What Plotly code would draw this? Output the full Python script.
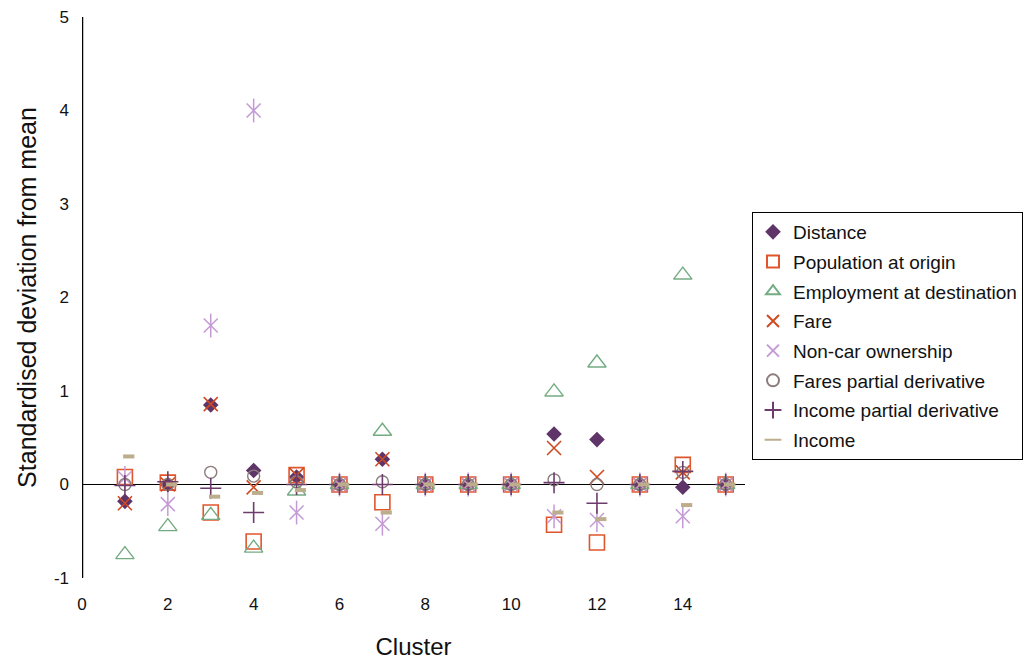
import plotly.graph_objects as go

# Cluster numbers on the horizontal axis
clusters = list(range(1, 16))

# Standardised deviation from mean for each variable, per cluster
distance = [-0.18, 0.00, 0.85, 0.15, 0.08, 0, 0.27, 0, 0, 0, 0.54, 0.48, 0, -0.03, 0]
population = [0.08, 0.02, -0.30, -0.61, 0.10, 0, -0.19, 0, 0, 0, -0.43, -0.62, 0, 0.21, 0]
employment = [-0.75, -0.45, -0.33, -0.68, -0.07, 0, 0.57, 0, 0, 0, 0.99, 1.30, 0, 2.24, 0]
fare = [-0.20, 0.00, 0.86, -0.03, 0.10, 0, 0.27, 0, 0, 0, 0.39, 0.08, 0, 0.13, 0]
non_car = [0.07, -0.21, 1.70, 4.00, -0.30, 0, -0.42, 0, 0, 0, -0.34, -0.38, 0, -0.34, 0]
fares_pd = [0.00, 0.00, 0.13, 0.09, 0.03, 0, 0.03, 0, 0, 0, 0.05, 0.00, 0, 0.13, 0]
income_pd = [-0.01, 0.03, -0.04, -0.30, 0.00, 0, 0.00, 0, 0, 0, 0.02, -0.20, 0, 0.14, 0]
income = [0.30, 0.00, -0.13, -0.09, -0.06, 0, -0.30, 0, 0, 0, -0.30, -0.37, 0, -0.22, 0]

x_ticks = [0, 2, 4, 6, 8, 10, 12, 14]
y_ticks = [-1, 0, 1, 2, 3, 4, 5]
y_tick_labels = ["-1", "0", "1", "2", "3", "4", "5"]

X_MAX = 15.45
font = "Liberation Sans, Arial, sans-serif"

fig = go.Figure()


def add(name, vals, marker, xaxis="x", legend=True, group=None):
    fig.add_trace(go.Scatter(x=clusters, y=vals, mode="markers", name=name,
                             legendgroup=group or name, showlegend=legend,
                             xaxis=xaxis, marker=marker, cliponaxis=False))


add("Distance", distance, dict(symbol="diamond", size=12, color="#5f3468"))
add("Population at origin", population,
    dict(symbol="square-open", size=15, color="#e0562c", line=dict(width=1.6)))
add("Employment at destination", employment,
    dict(symbol="triangle-up-open", size=16, color="#74ac82", line=dict(width=1.4)))
add("Fare", fare, dict(symbol="x-thin-open", size=14, color="#d04a20", line=dict(width=1.6)))
# Six-armed star: a diagonal cross with a vertical stroke through it
add("Non-car ownership", non_car,
    dict(symbol="x-thin-open", size=14, color="#c49ad6", line=dict(width=1.5)))
add("Non-car ownership", non_car,
    dict(symbol="line-ns-open", size=17, color="#c49ad6", line=dict(width=1.5)),
    legend=False, group="Non-car ownership")
add("Fares partial derivative", fares_pd,
    dict(symbol="circle-open", size=12, color="#8c7c7c", line=dict(width=1.4)))
add("Income partial derivative", income_pd,
    dict(symbol="cross-thin-open", size=15, color="#6c3c6c", line=dict(width=1.6)))
# Income marker is a short bar sitting just right of the cluster position
add("Income", income,
    dict(symbol="line-ew-open", size=8, color="#bcae8c", line=dict(width=4, color="#bcae8c")),
    xaxis="x2")

fig.update_layout(
    width=1024, height=660,
    margin=dict(l=82, r=279, t=17, b=82, autoexpand=False),
    paper_bgcolor="white", plot_bgcolor="white",
    font=dict(family=font, color="#111111"),
    showlegend=True,
    legend=dict(xref="container", yref="container", x=752 / 1024, y=1 - 212 / 660,
                xanchor="left", yanchor="top",
                bordercolor="#000000", borderwidth=1, bgcolor="white",
                font=dict(size=19, family=font, color="#111111"),
                itemsizing="constant", tracegroupgap=2, itemwidth=30),
    xaxis=dict(range=[0, X_MAX], tickvals=x_ticks,
               showgrid=False, zeroline=False, showline=False, ticks="",
               ticklabelstandoff=14, automargin=False,
               tickfont=dict(size=17, family=font, color="#111111"),
               title=dict(text="Cluster", font=dict(size=24, family=font, color="#111111"),
                          standoff=25)),
    xaxis2=dict(range=[-0.09, X_MAX - 0.09], overlaying="x", visible=False),
    yaxis=dict(range=[-1, 5], tickvals=y_ticks, ticktext=y_tick_labels, showgrid=False,
               zeroline=True, zerolinecolor="#000000", zerolinewidth=1.3,
               showline=False, ticks="", ticklabelstandoff=12, automargin=False,
               tickfont=dict(size=17, family=font, color="#111111"),
               title=dict(text="Standardised deviation from mean",
                          font=dict(size=25, family=font, color="#111111"), standoff=10)),
)

# Vertical axis line at cluster 0
fig.add_shape(type="line", xref="x", yref="y", x0=0, x1=0, y0=-1, y1=5,
              line=dict(color="#000000", width=2.5), layer="above")

fig.write_html("out.html")
